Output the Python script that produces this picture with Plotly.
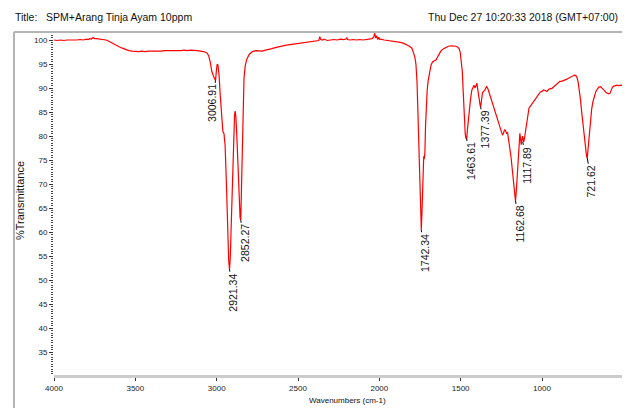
import plotly.graph_objects as go

# ---- data ----
wavenumber = [
    4000, 3980, 3960, 3940, 3920, 3900, 3880, 3860, 3840, 3820,
    3800, 3790, 3780, 3770, 3760, 3750, 3740, 3720, 3700, 3680,
    3660, 3640, 3620, 3600, 3580, 3560, 3540, 3520, 3500, 3480,
    3460, 3440, 3420, 3400, 3380, 3360, 3340, 3320, 3300, 3280,
    3260, 3240, 3220, 3200, 3180, 3160, 3140, 3120, 3100, 3080,
    3060, 3050, 3040, 3030, 3020, 3012, 3007, 3002, 2997, 2992,
    2985, 2978, 2970, 2962, 2955, 2948, 2940, 2932, 2926, 2921,
    2916, 2910, 2903, 2895, 2890, 2886, 2882, 2876, 2870, 2862,
    2856, 2852, 2848, 2843, 2838, 2832, 2825, 2815, 2800, 2780,
    2760, 2740, 2720, 2700, 2680, 2660, 2640, 2620, 2600, 2580,
    2560, 2540, 2520, 2500, 2480, 2460, 2440, 2420, 2400, 2380,
    2372, 2366, 2360, 2350, 2340, 2320, 2300, 2280, 2260, 2240,
    2220, 2205, 2200, 2195, 2180, 2160, 2140, 2120, 2100, 2080,
    2060, 2045, 2035, 2028, 2022, 2016, 2010, 2004, 1998, 1990,
    1970, 1950, 1930, 1910, 1890, 1870, 1850, 1830, 1815, 1800,
    1790, 1782, 1775, 1768, 1762, 1756, 1750, 1745, 1742, 1738,
    1734, 1730, 1727, 1724, 1720, 1716, 1712, 1706, 1700, 1692,
    1682, 1672, 1660, 1650, 1640, 1630, 1620, 1605, 1590, 1575,
    1560, 1545, 1530, 1518, 1510, 1503, 1497, 1490, 1484, 1478,
    1472, 1468, 1463, 1458, 1452, 1446, 1440, 1432, 1425, 1418,
    1412, 1406, 1400, 1396, 1391, 1386, 1380, 1377, 1372, 1366,
    1360, 1352, 1346, 1340, 1332, 1325, 1315, 1305, 1295, 1285,
    1275, 1265, 1255, 1248, 1243, 1237, 1230, 1225, 1218, 1212,
    1205, 1198, 1190, 1182, 1175, 1168, 1163, 1158, 1152, 1146,
    1140, 1136, 1132, 1128, 1124, 1120, 1116, 1112, 1108, 1102,
    1095, 1088, 1080, 1070, 1060, 1050, 1040, 1030, 1020, 1010,
    1000, 990, 980, 970, 960, 950, 940, 930, 920, 910,
    900, 890, 880, 870, 860, 850, 840, 830, 820, 810,
    800, 792, 785, 778, 770, 763, 756, 750, 744, 738,
    732, 726, 722, 718, 713, 708, 702, 695, 688, 680,
    670, 660, 650, 640, 630, 620, 612, 604, 598, 590,
    582, 574, 567, 558, 550, 540, 530, 520, 510, 500,
    490, 480, 470, 460,
]
transmittance = [
    100.0, 99.9, 100.0, 99.9, 100.0, 100.0, 99.9, 100.0, 100.1, 100.0,
    100.2, 100.1, 100.3, 100.2, 100.5, 100.3, 100.3, 100.2, 100.1, 100.0,
    99.7, 99.3, 98.9, 98.6, 98.3, 98.0, 97.8, 97.7, 97.6, 97.6,
    97.7, 97.6, 97.7, 97.7, 97.6, 97.7, 97.7, 97.8, 97.8, 97.7,
    97.8, 97.8, 97.8, 97.9, 97.8, 97.9, 97.9, 97.8, 97.7, 97.6,
    97.3, 96.8, 95.5, 93.5, 92.5, 91.8, 91.6, 93.5, 95.0, 94.8,
    92.5, 88.5, 84.0, 81.0, 80.5, 78.0, 70.0, 60.0, 54.0, 52.3,
    55.0, 62.0, 72.0, 80.0, 84.5, 85.2, 84.0, 80.0, 74.0, 66.0,
    63.0, 62.5, 68.0, 79.0, 88.0, 92.0, 94.5, 96.0, 97.0, 97.6,
    97.8, 97.8, 97.7, 97.9, 98.0, 98.2, 98.4, 98.6, 98.8, 98.9,
    99.0, 99.1, 99.2, 99.3, 99.4, 99.5, 99.6, 99.6, 99.7, 99.8,
    99.9, 100.7, 100.1, 100.0, 100.2, 99.9, 100.0, 100.1, 100.0, 100.2,
    100.1, 100.2, 100.5, 100.1, 100.0, 100.1, 100.0, 100.1, 100.0, 100.1,
    100.2, 100.3, 100.6, 101.4, 100.4, 100.9, 100.1, 100.6, 100.1, 100.2,
    100.0, 99.9, 99.9, 99.8, 99.6, 99.5, 99.3, 99.0, 98.7, 98.3,
    97.5, 96.5, 95.0, 91.0, 84.0, 75.0, 66.0, 61.0, 60.5, 64.0,
    70.0, 74.0, 75.8, 75.2, 76.5, 82.0, 86.0, 89.5, 91.5, 93.2,
    94.8, 95.5, 95.8, 95.9, 96.6, 97.3, 97.8, 98.2, 98.5, 98.7,
    98.8, 98.8, 98.7, 98.5, 98.2, 97.5, 96.0, 93.5, 89.0, 84.0,
    80.5, 79.6, 79.5, 81.5, 84.0, 86.0, 87.5, 89.5, 90.2, 90.6,
    90.0, 90.8, 91.0, 90.0, 88.5, 87.5, 86.3, 86.1, 88.0, 89.0,
    89.3, 89.5, 90.0, 90.3, 89.8, 89.0, 88.2, 87.0, 85.5, 84.4,
    83.5, 82.6, 81.5, 80.8, 80.2, 80.6, 81.3, 81.2, 80.6, 80.8,
    79.5, 77.5, 75.5, 72.5, 69.5, 67.0, 66.5, 68.5, 72.0, 76.0,
    79.5, 80.6, 79.5, 78.2, 79.0, 80.0, 79.5, 78.8, 79.5, 81.0,
    83.0, 84.5, 85.8, 86.3, 86.8, 87.2, 87.8, 88.4, 88.9, 89.2,
    89.3, 89.6, 89.5, 89.3, 89.7, 89.9, 89.9, 90.2, 90.6, 90.9,
    91.2, 91.4, 91.4, 91.5, 91.7, 91.8, 92.0, 92.2, 92.4, 92.6,
    92.7, 92.6, 92.2, 91.3, 89.5, 87.5, 85.0, 83.0, 81.0, 79.5,
    77.5, 75.8, 75.4, 77.0, 79.0, 81.0, 83.5, 85.5, 87.0, 88.2,
    89.2, 89.8, 90.2, 90.3, 90.0, 89.6, 89.3, 89.0, 88.9, 88.8,
    88.9, 89.5, 90.2, 90.4, 90.5, 90.6, 90.5, 90.6, 90.6, 90.5,
    90.0, 89.5, 89.2, 88.9,
]
assert len(wavenumber) == len(transmittance)

peak_wn = [3006.91, 2921.34, 2852.27, 1742.34, 1463.61, 1377.39, 1162.68, 1117.89, 721.62]
peak_T = [91.6, 52.3, 62.5, 60.5, 79.5, 86.1, 66.5, 78.8, 75.4]

x_ticks = [4000, 3500, 3000, 2500, 2000, 1500, 1000, 500]
y_ticks = [35, 40, 45, 50, 55, 60, 65, 70, 75, 80, 85, 90, 95, 100]

title_text = "Title:   SPM+Arang Tinja Ayam 10ppm"
date_text = "Thu Dec 27 10:20:33 2018 (GMT+07:00)"
x_title = "Wavenumbers (cm-1)"
y_title = "%Transmittance"

FONT = "Liberation Sans, Arial, sans-serif"

# the page body adds an 8px margin; size the figure so it fits the window
OFF = 8
W, H = 630 - OFF, 408 - OFF
# target plot area in window pixels: x 54..630, y 33..375
ML = 54 - OFF
MR = 0
MT = 33 - OFF
MB = H - (375 - OFF)
PW, PH = W - ML - MR, H - MT - MB


def px(xs):  # window pixel -> paper x
    return (xs - OFF - ML) / PW


def py(ys):  # window pixel -> paper y
    return (H - MB - (ys - OFF)) / PH


fig = go.Figure()
fig.add_trace(go.Scatter(x=wavenumber, y=transmittance, mode="lines",
                         line=dict(color="#ff0000", width=1.2), showlegend=False,
                         hoverinfo="skip"))

annotations = []
for i, (w, t) in enumerate(zip(peak_wn, peak_T)):
    annotations.append(dict(x=w, y=t, xref="x", yref="y", text=f"{w:.2f}",
                            textangle=-90, showarrow=True, arrowhead=0, arrowwidth=1,
                            arrowcolor="#000000", ax=-3 if i == 0 else 4, ay=23,
                            font=dict(family=FONT, size=10.5, color="#111111")))

annotations += [
    dict(x=px(13), y=py(17), xref="paper", yref="paper", text=title_text, showarrow=False,
         xanchor="left", yanchor="middle", font=dict(family=FONT, size=10.5, color="#111111")),
    dict(x=px(620), y=py(17), xref="paper", yref="paper", text=date_text, showarrow=False,
         xanchor="right", yanchor="middle", font=dict(family=FONT, size=10.5, color="#111111")),
    dict(x=px(347), y=py(400), xref="paper", yref="paper", text=x_title, showarrow=False,
         xanchor="center", yanchor="middle", font=dict(family=FONT, size=8, color="#111111")),
    dict(x=px(20), y=py(201), xref="paper", yref="paper", text=y_title, showarrow=False,
         textangle=-90, xanchor="center", yanchor="middle", font=dict(family=FONT, size=11, color="#111111")),
]

shapes = [
    dict(type="line", xref="paper", yref="paper", x0=px(14), x1=px(14), y0=py(430), y1=py(32),
         line=dict(color="#b4b4b4", width=2)),
    dict(type="line", xref="paper", yref="paper", x0=px(14), x1=px(650), y0=py(32), y1=py(32),
         line=dict(color="#b4b4b4", width=2)),
]

fig.update_layout(
    width=W, height=H,
    margin=dict(l=ML, r=MR, t=MT, b=MB, pad=0),
    paper_bgcolor="white", plot_bgcolor="white",
    annotations=annotations, shapes=shapes,
    showlegend=False,
    xaxis=dict(range=[4000, 459], tickvals=x_ticks, ticktext=[str(v) for v in x_ticks],
               showgrid=False, zeroline=False, showline=True, linecolor="#cccccc", linewidth=3,
               ticks="outside", ticklen=3, tickcolor="#333333", tickwidth=1,
               tickfont=dict(family=FONT, size=8, color="#222222")),
    yaxis=dict(range=[30.28, 101.46], tickvals=y_ticks, ticktext=[str(v) for v in y_ticks],
               showgrid=False, zeroline=False, showline=False,
               ticks="outside", ticklen=4, tickcolor="#333333", tickwidth=1,
               minor=dict(dtick=0.5, tick0=0, ticks="outside", ticklen=2, tickcolor="#444444", tickwidth=1),
               tickfont=dict(family=FONT, size=8, color="#222222")),
)

fig.write_html("out.html")
